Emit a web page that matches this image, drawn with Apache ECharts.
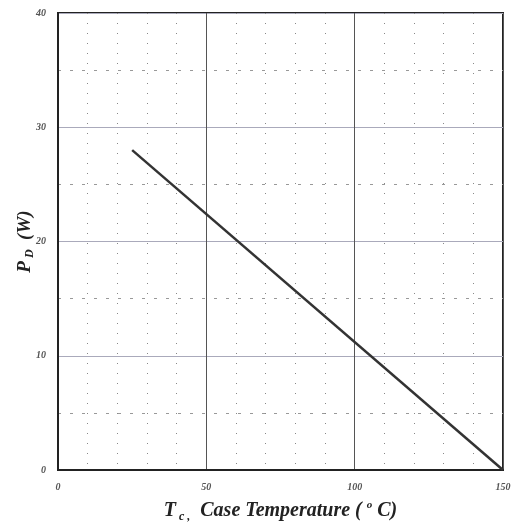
<!DOCTYPE html>
<html>
<head>
<meta charset="utf-8">
<script src="https://cdn.jsdelivr.net/npm/echarts@6/dist/echarts.min.js"></script>
<style>html,body{margin:0;padding:0;background:#fff;}#c{width:514px;height:532px;}</style>
</head>
<body>
<div id="c"></div>
<script>
const xTicks = [0, 50, 100, 150];
const yTicks = [0, 10, 20, 30, 40];
const caseTemp = [25, 150];
const powerDiss = [28, 0];

const chart = echarts.init(document.getElementById('c'), null, {renderer: 'canvas'});
const serif = '"Liberation Serif", "DejaVu Serif", serif';
const lineData = caseTemp.map((t, i) => [t, powerDiss[i]]);

chart.setOption({
  animation: false,
  backgroundColor: '#fff',
  grid: {left: 58, right: 11, top: 13, bottom: 62, outerBoundsMode: 'none', containLabel: false, show: true, borderColor: '#222', borderWidth: 2, backgroundColor: 'transparent'},
  xAxis: {
    type: 'value', min: xTicks[0], max: xTicks[xTicks.length - 1], interval: 50,
    axisLine: {show: true, lineStyle: {color: '#222', width: 2}},
    axisTick: {show: false},
    axisLabel: {color: '#555', fontFamily: serif, fontStyle: 'italic', fontWeight: 'bold', fontSize: 10, margin: 12},
    splitLine: {show: true, lineStyle: {color: '#555', width: 1}},
    minorTick: {show: false, splitNumber: 5},
    minorSplitLine: {show: true, lineStyle: {color: '#888', width: 1, type: [1, 9]}},
    name: '{a|T}{s|c ,}{a|  Case Temperature ( }{sup|o}{a| C)}',
    nameLocation: 'middle', nameGap: 29,
    nameTextStyle: {
      rich: {
        a: {fontFamily: serif, fontStyle: 'italic', fontWeight: 'bold', fontSize: 20, color: '#222'},
        s: {fontFamily: serif, fontStyle: 'italic', fontWeight: 'bold', fontSize: 12, color: '#222', padding: [12, 0, 0, 3]},
        sup: {fontFamily: serif, fontStyle: 'italic', fontWeight: 'bold', fontSize: 11, color: '#222', padding: [0, 0, 12, 0]}
      }
    }
  },
  yAxis: {
    type: 'value', min: yTicks[0], max: yTicks[yTicks.length - 1], interval: 10,
    axisLine: {show: true, lineStyle: {color: '#222', width: 2}},
    axisTick: {show: false},
    axisLabel: {color: '#555', fontFamily: serif, fontStyle: 'italic', fontWeight: 'bold', fontSize: 10, margin: 12},
    splitLine: {show: true, lineStyle: {color: '#aab', width: 1}},
    minorTick: {show: false, splitNumber: 2},
    minorSplitLine: {show: true, lineStyle: {color: '#999', width: 1, type: [3, 9]}},
    name: '{a|P}{s|D}{a|  (W)}',
    nameLocation: 'middle', nameGap: 22, nameMoveOverlap: false,
    nameTextStyle: {
      rich: {
        a: {fontFamily: serif, fontStyle: 'italic', fontWeight: 'bold', fontSize: 19, color: '#222'},
        s: {fontFamily: serif, fontStyle: 'italic', fontWeight: 'bold', fontSize: 12, color: '#222', padding: [10, 0, 0, 3]}
      }
    }
  },
  series: [{
    type: 'line', data: lineData, showSymbol: false, symbol: 'none',
    lineStyle: {color: '#333', width: 2.5}
  }]
});
</script>
</body>
</html>
